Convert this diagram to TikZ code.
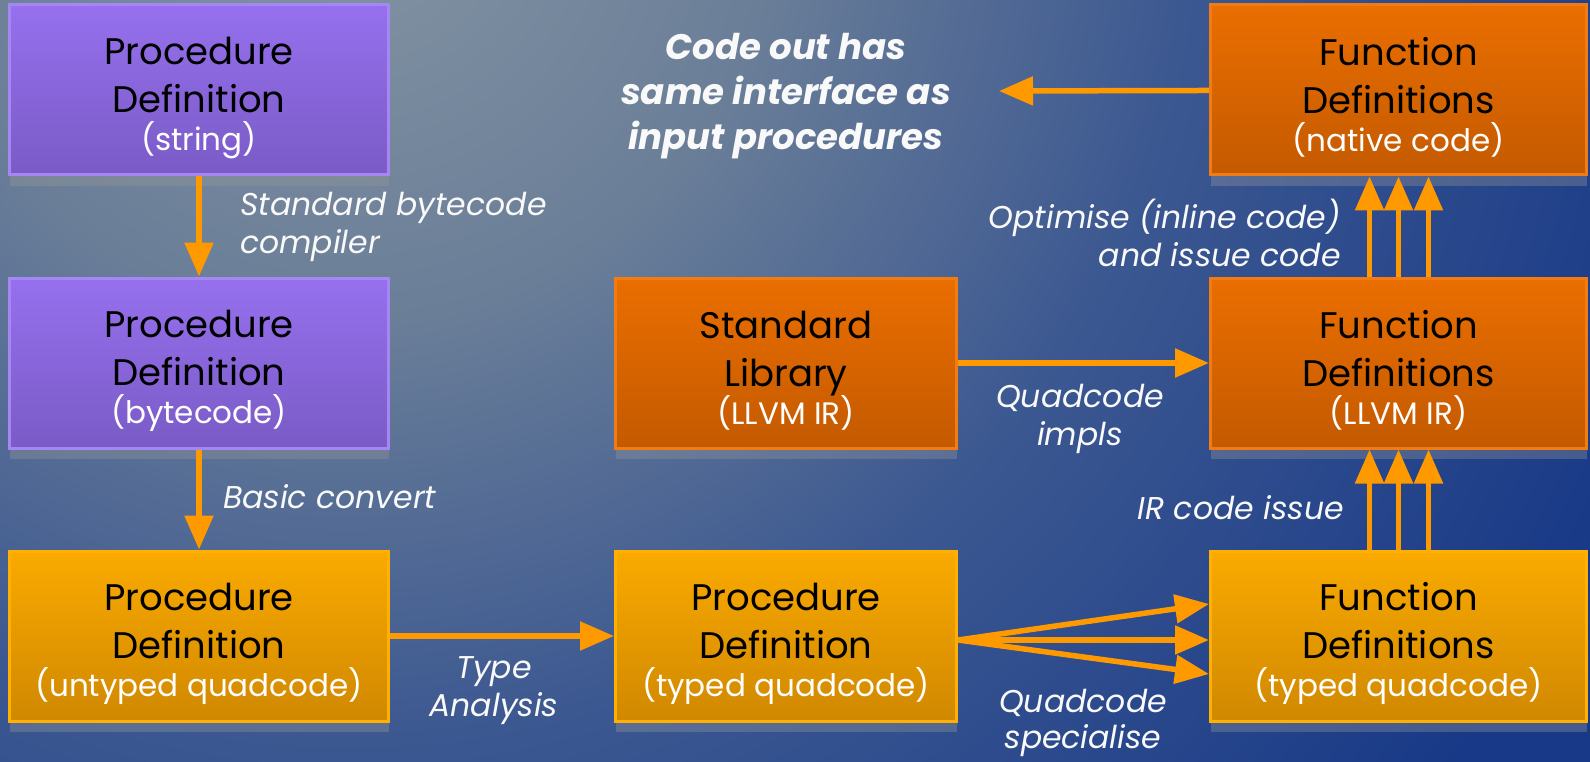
\documentclass[tikz,border=0pt]{standalone}
\usepackage{fontspec}
\setmainfont{Poppins}
\usepackage{xcolor}
\usepackage{tikz}
\usetikzlibrary{arrows.meta, positioning, shadows}

\definecolor{bginner}{HTML}{8494A2}
\definecolor{bglight}{HTML}{6A7E98}
\definecolor{bgmid}{HTML}{3C5891}
\definecolor{bgouter}{HTML}{183987}
\definecolor{purpletop}{HTML}{9670EE}
\definecolor{purplebot}{HTML}{7A5BC6}
\definecolor{purpleline}{HTML}{A487F2}
\definecolor{orangetop}{HTML}{EA6E00}
\definecolor{orangebot}{HTML}{C45A00}
\definecolor{orangeline}{HTML}{F27C12}
\definecolor{yellowtop}{HTML}{FAAA00}
\definecolor{yellowbot}{HTML}{D08800}
\definecolor{yellowline}{HTML}{FFB000}
\definecolor{flowcol}{HTML}{FF9900}
\definecolor{shadowcol}{HTML}{999999}

\pgfdeclareradialshading{backdrop}{\pgfpoint{0bp}{0bp}}{color(0bp)=(bginner); color(6.6bp)=(bglight); color(13.1bp)=(bgmid); color(21.9bp)=(bgouter); color(50bp)=(bgouter)}

\newcommand{\titlesize}{\fontsize{37}{48}\selectfont}
\newcommand{\subsize}{\fontsize{31}{41}\selectfont}
\newcommand{\labelsize}{\fontsize{31.5}{38}\selectfont}
\newcommand{\boxlines}[3]{\rule{0pt}{43pt}#1\\#2\\[-10pt]{\subsize\color{white}#3}}

\begin{document}
\begin{tikzpicture}[x=1pt, y=-1pt,
        box/.style={minimum height=170pt, line width=3pt, align=center, font=\titlesize, text=black,
            drop shadow={shadow xshift=0pt, shadow yshift=-11pt, fill=shadowcol, opacity=0.35}},
        purplebox/.style={box, top color=purpletop, bottom color=purplebot, draw=purpleline},
        orangebox/.style={box, top color=orangetop, bottom color=orangebot, draw=orangeline},
        yellowbox/.style={box, top color=yellowtop, bottom color=yellowbot, draw=yellowline},
        flow/.style={draw=flowcol, line width=5.5pt, -{Triangle[length=34pt, width=28pt]}},
        lbl/.style={inner sep=0pt, text=white!95!gray, font=\labelsize\itshape}
    ]
    % background
    \useasboundingbox (0,0) rectangle (1590,762);
    \begin{scope}
        \clip (0,0) rectangle (1590,762);
        \shade[shading=backdrop] (350,-100) circle (1600);
    \end{scope}

    % left column
    \node[purplebox, minimum width=379pt] (pstring) at (199,90) {\boxlines{Procedure}{Definition}{(string)}};
    \node[purplebox, minimum width=379pt, below=100pt of pstring] (pbyte) {\boxlines{Procedure}{Definition}{(bytecode)}};
    \node[yellowbox, minimum width=379pt, below=100pt of pbyte] (puntyped) {\boxlines{Procedure}{Definition}{(untyped quadcode)}};

    % middle column
    \node[yellowbox, minimum width=341pt, right=224pt of puntyped] (ptyped) {\boxlines{Procedure}{Definition}{(typed quadcode)}};
    \node[orangebox, minimum width=341pt, above=100pt of ptyped] (stdlib) {\boxlines{Standard}{Library}{(LLVM IR)}};

    % right column
    \node[yellowbox, minimum width=376pt, right=251pt of ptyped] (ftyped) {\boxlines{Function}{Definitions}{(typed quadcode)}};
    \node[orangebox, minimum width=376pt, above=100pt of ftyped] (fllvm) {\boxlines{Function}{Definitions}{(LLVM IR)}};
    \node[orangebox, minimum width=376pt, above=100pt of fllvm] (fnative) {\boxlines{Function}{Definitions}{(native code)}};

    \coordinate (codetip) at (999,91);

    % connectors
    \draw[flow] (pstring) -- (pbyte);
    \draw[flow] (pbyte) -- (puntyped);
    \draw[flow] (puntyped) -- (ptyped);
    \draw[flow] (stdlib) -- (fllvm);
    \draw[flow] ([yshift=-4pt]ptyped.east) -- ([yshift=32pt]ftyped.west);
    \draw[flow] ([yshift=-4pt]ptyped.east) -- ([yshift=-4pt]ftyped.west);
    \draw[flow] ([yshift=-4pt]ptyped.east) -- ([yshift=-38pt]ftyped.west);
    \foreach \dx in {-29,0,30} {
        \draw[flow] ([xshift=\dx pt]ftyped.north) -- ([xshift=\dx pt]fllvm.south);
        \draw[flow] ([xshift=\dx pt]fllvm.north) -- ([xshift=\dx pt]fnative.south);
    }
    \draw[flow] (fnative) -- (codetip);

    % labels
    \node[lbl, anchor=west, align=left] (lbytecode) at (240,227) {Standard bytecode\\compiler};
    \node[lbl, anchor=west] (lbasic) at (223,497) {Basic convert};
    \node[lbl, align=center] (ltype) at (494,691) {Type\\Analysis};
    \node[lbl, align=center] (limpls) at (1080,419) {Quadcode\\impls};
    \node[lbl, align=center, font=\fontsize{31.5}{36}\selectfont\itshape] (lspecial) at (1083,723) {Quadcode\\specialise};
    \node[lbl, anchor=east] (lircode) at (1344,508) {IR code issue};
    \node[lbl, anchor=east, align=right] (loptim) at (1341,233) {Optimise (inline code)\\and issue code};
    \node[lbl, align=center, font=\fontsize{35.5}{45}\selectfont\bfseries\itshape] (lcodeout) at (786,96) {Code out has\\same interface as\\input procedures};
\end{tikzpicture}
\end{document}
